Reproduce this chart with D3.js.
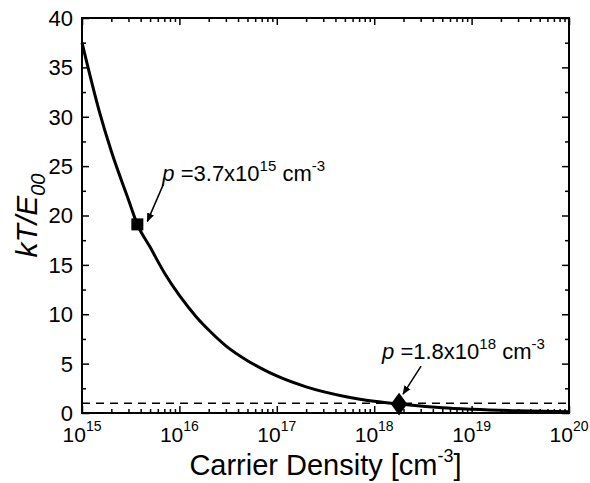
<!DOCTYPE html>
<html><head><meta charset="UTF-8">
  <title>kT/E00 vs Carrier Density</title>
  <script src="https://d3js.org/d3.v7.min.js"></script>
  <style>
    body { margin: 0; background: #fff; }
    text { font-family: Arial, "Liberation Sans", sans-serif; fill: #000; }
  </style>
</head>
<body>
  <svg width="590" height="483"></svg>
  <script>
    // carrier density (cm^-3) and kT/E00
    const density = [1e15, 1.5e15, 2e15, 3e15, 3.7e15, 5e15, 7e15, 1e16, 1.5e16, 2e16, 3e16, 5e16, 7e16,
                     1e17, 2e17, 5e17, 1e18, 1.8e18, 5e18, 1e19, 3e19, 1e20];
    const ratio   = [37.5, 30.6, 26.5, 21.6, 19.1, 16.8, 14.2, 11.9, 9.7, 8.4, 6.8, 5.3, 4.5,
                     3.75, 2.65, 1.68, 1.19, 0.9, 0.53, 0.38, 0.22, 0.12];
    const dashLevel = 1;
    const markers = [
      {n: 3.7e15, v: 19.1, shape: "square", mant: "3.7", exp: "15"},
      {n: 1.8e18, v: 0.9, shape: "diamond", mant: "1.8", exp: "18"}
    ];
    const xMajor = [1e15, 1e16, 1e17, 1e18, 1e19, 1e20];
    const yMajor = [0, 5, 10, 15, 20, 25, 30, 35, 40];
    const yMinor = d3.range(2.5, 40, 5);

    const margin = {top: 18, right: 21, bottom: 70, left: 82},
          width = 590 - margin.left - margin.right,
          height = 483 - margin.top - margin.bottom;

    const svg = d3.select("svg")
      .append("g")
        .attr("transform", "translate(" + margin.left + "," + margin.top + ")");

    const x = d3.scaleLog().domain([1e15, 1e20]).range([0, width]);
    const y = d3.scaleLinear().domain([0, 40]).range([height, 0]);

    // minor x ticks 2..9 per decade
    const xMinor = [];
    for (let e = 15; e < 20; e++) for (let k = 2; k <= 9; k++) xMinor.push(k * Math.pow(10, e));

    function styleAxis(g) {
      g.select(".domain").remove();
      g.selectAll("line").attr("stroke", "#000").attr("stroke-width", 1.5);
    }

    // inward ticks on all four sides
    svg.append("g").attr("transform", "translate(0," + height + ")")
      .call(d3.axisBottom(x).tickValues(xMajor).tickSize(-7).tickFormat("")).call(styleAxis);
    svg.append("g").attr("transform", "translate(0," + height + ")")
      .call(d3.axisBottom(x).tickValues(xMinor).tickSize(-4).tickFormat("")).call(styleAxis);
    svg.append("g")
      .call(d3.axisTop(x).tickValues(xMajor).tickSize(-7).tickFormat("")).call(styleAxis);
    svg.append("g")
      .call(d3.axisTop(x).tickValues(xMinor).tickSize(-4).tickFormat("")).call(styleAxis);
    svg.append("g")
      .call(d3.axisLeft(y).tickValues(yMajor).tickSize(-7).tickFormat("")).call(styleAxis);
    svg.append("g")
      .call(d3.axisLeft(y).tickValues(yMinor).tickSize(-4).tickFormat("")).call(styleAxis);
    svg.append("g").attr("transform", "translate(" + width + ",0)")
      .call(d3.axisRight(y).tickValues(yMajor).tickSize(-7).tickFormat("")).call(styleAxis);
    svg.append("g").attr("transform", "translate(" + width + ",0)")
      .call(d3.axisRight(y).tickValues(yMinor).tickSize(-4).tickFormat("")).call(styleAxis);

    // y tick labels
    svg.selectAll(".ylab")
      .data(yMajor)
      .join("text")
        .attr("x", -9)
        .attr("y", d => y(d))
        .attr("dy", "0.36em")
        .attr("text-anchor", "end")
        .style("font-size", "22px")
        .text(d => d);

    // x tick labels 10^n
    const xl = svg.selectAll(".xlab")
      .data(xMajor)
      .join("text")
        .attr("x", d => x(d))
        .attr("y", height + 29)
        .attr("text-anchor", "middle")
        .style("font-size", "21px");
    xl.append("tspan").text("10");
    xl.append("tspan").attr("dy", -11).style("font-size", "14px").text(d => Math.round(Math.log10(d)));

    // dashed reference line
    svg.append("line")
      .attr("x1", 0).attr("x2", width)
      .attr("y1", y(dashLevel)).attr("y2", y(dashLevel))
      .attr("stroke", "#000").attr("stroke-width", 1.5)
      .attr("stroke-dasharray", "8,6");

    // the curve
    const data = density.map((d, i) => ({n: d, v: ratio[i]}));
    const line = d3.line()
      .x(d => x(d.n))
      .y(d => y(d.v))
      .curve(d3.curveMonotoneX);
    svg.append("path")
      .datum(data)
      .attr("d", line)
      .attr("fill", "none")
      .attr("stroke", "#000")
      .attr("stroke-width", 3);

    // frame
    svg.append("rect")
      .attr("width", width).attr("height", height)
      .attr("fill", "none").attr("stroke", "#000").attr("stroke-width", 2);

    // arrowhead
    d3.select("svg").append("defs").append("marker")
      .attr("id", "arr")
      .attr("viewBox", "0 0 10 10")
      .attr("refX", 9).attr("refY", 5)
      .attr("markerWidth", 9).attr("markerHeight", 9)
      .attr("markerUnits", "userSpaceOnUse")
      .attr("orient", "auto")
      .append("path").attr("d", "M0,1 L10,5 L0,9 Z").attr("fill", "#000");

    // markers and labels
    markers.forEach((m, i) => {
      const cx = x(m.n), cy = y(m.v);
      if (m.shape === "square") {
        svg.append("rect")
          .attr("x", cx - 6).attr("y", cy - 6)
          .attr("width", 12).attr("height", 12)
          .attr("fill", "#000");
      } else {
        svg.append("path")
          .attr("d", d3.symbol().type(d3.symbolDiamond).size(150))
          .attr("transform", "translate(" + cx + "," + cy + ") scale(1.25,1)")
          .attr("fill", "#000");
      }
      // arrow from label to marker
      const off = i === 0 ? {x0: 26, y0: -40, x1: 10, y1: -3} : {x0: 22, y0: -38, x1: 4, y1: -10};
      svg.append("line")
        .attr("x1", cx + off.x0).attr("y1", cy + off.y0)
        .attr("x2", cx + off.x1).attr("y2", cy + off.y1)
        .attr("stroke", "#000").attr("stroke-width", 1.5)
        .attr("marker-end", "url(#arr)");

      const tx = i === 0 ? cx + 25 : cx - 17;
      const ty = i === 0 ? cy - 43 : cy - 45;
      const t = svg.append("text")
        .attr("x", tx).attr("y", ty)
        .style("font-size", "22px");
      t.append("tspan").style("font-style", "italic").text("p");
      t.append("tspan").text(" =" + m.mant + "x10");
      t.append("tspan").attr("dy", -10).style("font-size", "15px").text(m.exp);
      t.append("tspan").attr("dy", 10).text(" cm");
      t.append("tspan").attr("dy", -10).style("font-size", "15px").text("-3");
    });

    // axis titles
    const xt = svg.append("text")
      .attr("x", width / 2).attr("y", height + 62)
      .attr("text-anchor", "middle")
      .style("font-size", "29px");
    xt.append("tspan").text("Carrier Density [cm");
    xt.append("tspan").attr("dy", -13).style("font-size", "18px").text("-3");
    xt.append("tspan").attr("dy", 13).text("]");

    const yt = svg.append("text")
      .attr("transform", "translate(-45," + (height / 2) + ") rotate(-90)")
      .attr("text-anchor", "middle")
      .style("font-size", "30px")
      .style("font-style", "italic");
    yt.append("tspan").text("kT/E");
    yt.append("tspan").attr("dy", 8).style("font-size", "20px").text("00");
  </script>
</body></html>
